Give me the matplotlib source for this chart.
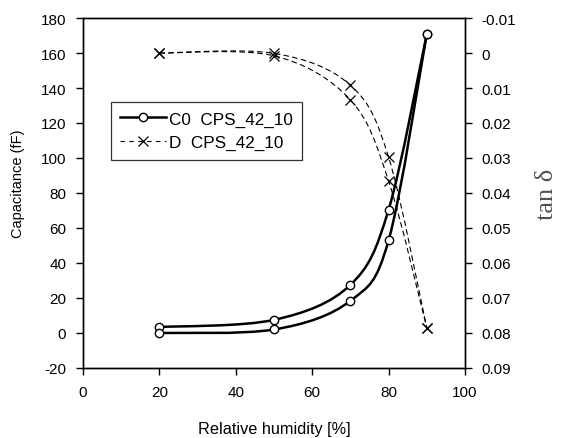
import matplotlib
matplotlib.use('Agg')
import matplotlib.pyplot as plt
from matplotlib.path import Path
from matplotlib.patches import PathPatch
from matplotlib.lines import Line2D

plt.rcParams['font.family'] = ['Liberation Sans', 'DejaVu Sans']
plt.rcParams['axes.unicode_minus'] = False

# data
rh = [20, 50, 70, 80, 90]
cap_upper = [3.4, 7.5, 27.5, 70.5, 171]
cap_lower = [0.0, 2.0, 18.4, 53.0, 171]
tan_upper = [0.0, 0.0001, 0.0092, 0.0298, 0.0786]
tan_lower = [0.0, 0.0008, 0.0134, 0.0366, 0.0786]

x_ticks = [0, 20, 40, 60, 80, 100]
cap_ticks = [-20, 0, 20, 40, 60, 80, 100, 120, 140, 160, 180]
tan_ticks = [-0.01, 0, 0.01, 0.02, 0.03, 0.04, 0.05, 0.06, 0.07, 0.08, 0.09]
tan_labels = ['-0.01', '0', '0.01', '0.02', '0.03', '0.04', '0.05',
              '0.06', '0.07', '0.08', '0.09']


def smooth_path(xs, ys):
    # Excel-like smoothed line: cubic Bezier through the points
    pts = list(zip(xs, ys))
    verts = [pts[0]]
    codes = [Path.MOVETO]
    n = len(pts)
    for i in range(n - 1):
        p0 = pts[i - 1] if i > 0 else pts[i]
        p1 = pts[i]
        p2 = pts[i + 1]
        p3 = pts[i + 2] if i + 2 < n else pts[i + 1]
        c1 = (p1[0] + (p2[0] - p0[0]) / 6, p1[1] + (p2[1] - p0[1]) / 6)
        c2 = (p2[0] - (p3[0] - p1[0]) / 6, p2[1] - (p3[1] - p1[1]) / 6)
        verts += [c1, c2, p2]
        codes += [Path.CURVE4] * 3
    return Path(verts, codes)


fig = plt.figure(figsize=(5.63, 4.39), dpi=100)
ax = fig.add_axes([0.1474, 0.1595, 0.6786, 0.7972])
ax2 = ax.twinx()

for ys in (cap_upper, cap_lower):
    ax.add_patch(PathPatch(smooth_path(rh, ys), fill=False, edgecolor='black',
                           linewidth=1.8, zorder=2))
    ax.plot(rh, ys, linestyle='none', marker='o', markersize=6,
            markerfacecolor='white', markeredgecolor='black',
            markeredgewidth=1.0, zorder=3)

for ys in (tan_upper, tan_lower):
    ax2.add_patch(PathPatch(smooth_path(rh, ys), fill=False, edgecolor='black',
                            linewidth=0.8, linestyle=(0, (5, 3)), zorder=2))
    ax2.plot(rh, ys, linestyle='none', marker='x', markersize=7,
             color='black', markeredgewidth=0.9, zorder=3)

ax.set_xlim(0, 100)
ax.set_ylim(-20, 180)
ax.set_xticks(x_ticks)
ax.set_yticks(cap_ticks)
ax2.set_ylim(0.09, -0.01)
ax2.set_yticks(tan_ticks)
ax2.set_yticklabels(tan_labels)

for a in (ax, ax2):
    for s in a.spines.values():
        s.set_linewidth(1.0)
    a.tick_params(direction='out', length=5, width=1.0, labelsize=11,
                  colors='black', pad=7)

ax.set_xlabel('Relative humidity [%]', fontsize=11.7, labelpad=16)
ax.set_ylabel('Capacitance (fF)', fontsize=10.5)
ax.yaxis.set_label_coords(-0.152, 0.53)
ax2.set_ylabel('tan δ', fontsize=19, family=['Liberation Serif', 'DejaVu Serif'],
               color='#505050', labelpad=14)

handles = [
    Line2D([], [], color='black', linewidth=1.8, marker='o', markersize=6,
           markerfacecolor='white', markeredgewidth=1.0),
    Line2D([], [], color='black', linewidth=0.8, linestyle=(0, (4, 4)),
           marker='x', markersize=7, markeredgewidth=0.9),
]
leg = ax.legend(handles, ['C0  CPS_42_10', 'D  CPS_42_10'],
                loc='upper left', bbox_to_anchor=(0.073, 0.76),
                borderaxespad=0, fontsize=12.3, frameon=True, fancybox=False,
                edgecolor='black', borderpad=0.55, handlelength=2.7,
                handletextpad=0.15, labelspacing=0.5)
leg.get_frame().set_linewidth(0.9)

fig.savefig('out.png', dpi=100)
